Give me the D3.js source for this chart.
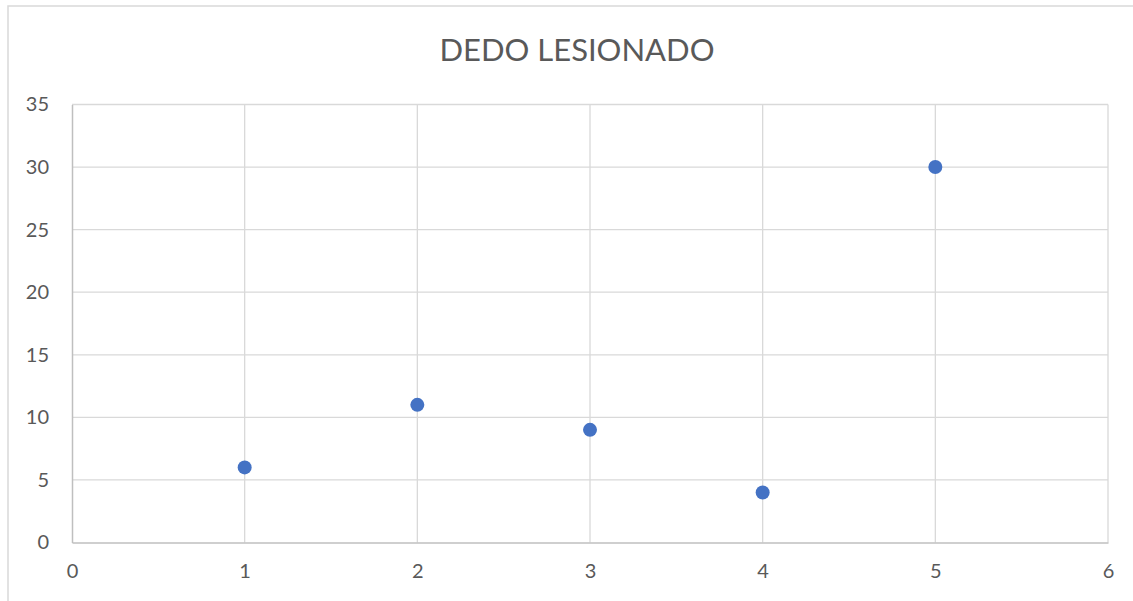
<!DOCTYPE html>
<html>
<head>
<meta charset="utf-8">
<script src="https://cdn.jsdelivr.net/npm/d3@7"></script>
<style>
  html, body { margin: 0; padding: 0; background: #fff; }
  svg { display: block; }
  text { font-family: Lato, "Open Sans", sans-serif; fill: #595959; }
</style>
</head>
<body>
<svg id="chart" width="1133" height="601"></svg>
<script>
// Data series
const xValues = [1, 2, 3, 4, 5];
const yValues = [6, 11, 9, 4, 30];
const xTicks = [0, 1, 2, 3, 4, 5, 6];
const yTicks = [0, 5, 10, 15, 20, 25, 30, 35];
const chartTitle = "DEDO LESIONADO";

const svg = d3.select("#chart");
const W = 1133, H = 601;
const plot = { left: 72, right: 1108, top: 104.5, bottom: 542.5 };

// Chart frame
svg.append("rect")
  .attr("x", 8).attr("y", 6)
  .attr("width", W).attr("height", H)
  .attr("fill", "#fff")
  .attr("stroke", "#d9d9d9").attr("stroke-width", 1.5);

const x = d3.scaleLinear().domain([0, 6]).range([plot.left, plot.right]);
const y = d3.scaleLinear().domain([0, 35]).range([plot.bottom, plot.top]);

// Gridlines
const grid = svg.append("g");
grid.selectAll(".gy").data(yTicks.filter(d => d > 0)).join("line")
  .attr("x1", plot.left).attr("x2", plot.right)
  .attr("y1", d => y(d)).attr("y2", d => y(d))
  .attr("stroke", "#d9d9d9").attr("stroke-width", 1.3);
grid.selectAll(".gx").data(xTicks.filter(d => d > 0)).join("line")
  .attr("x1", d => x(d)).attr("x2", d => x(d))
  .attr("y1", plot.top).attr("y2", plot.bottom)
  .attr("stroke", "#d9d9d9").attr("stroke-width", 1.3);

// Axes
const xAxis = svg.append("g")
  .attr("transform", `translate(0,${plot.bottom})`)
  .call(d3.axisBottom(x).tickValues(xTicks).tickFormat(d3.format("d")).tickSize(0).tickPadding(21));
const yAxis = svg.append("g")
  .attr("transform", `translate(${plot.left},0)`)
  .call(d3.axisLeft(y).tickValues(yTicks).tickFormat(d3.format("d")).tickSize(0).tickPadding(23));
[xAxis, yAxis].forEach(a => {
  a.select(".domain").attr("stroke", "#bfbfbf").attr("stroke-width", 1.5);
  a.selectAll("text").attr("font-size", 20).attr("font-family", "Lato, 'Open Sans', sans-serif").attr("fill", "#595959");
});

// Points
svg.append("g").selectAll("circle")
  .data(xValues.map((v, i) => [v, yValues[i]]))
  .join("circle")
  .attr("cx", d => x(d[0])).attr("cy", d => y(d[1]))
  .attr("r", 7)
  .attr("fill", "#4472c4");

// Title
svg.append("text")
  .attr("x", (plot.left + plot.right) / 2 - 13)
  .attr("y", 61)
  .attr("text-anchor", "middle")
  .attr("font-size", 31)
  .text(chartTitle);
</script>
</body>
</html>
